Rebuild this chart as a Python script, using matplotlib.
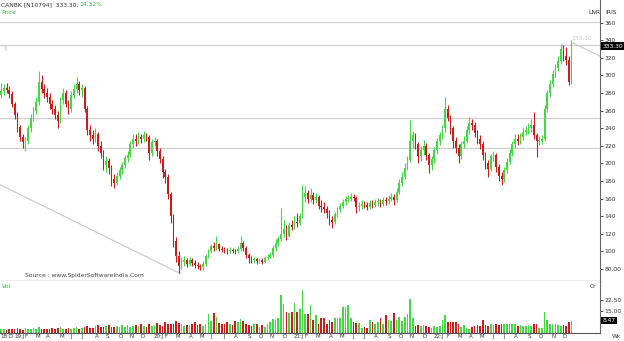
#!/usr/bin/env python
from __future__ import annotations

import matplotlib

matplotlib.use("Agg")
import matplotlib.pyplot as plt
import matplotlib.transforms as mtransforms
import pandas as pd


# weekly bars, Dec 2018 .. Dec 2022
WEEK_START = "2018-12-03"

OPENS = [
    278, 282, 286, 284, 279, 268, 255, 241, 230, 224,
    226, 240, 252, 260, 270, 292, 285, 280, 276, 268,
    262, 255, 248, 272, 280, 268, 262, 278, 285, 290,
    284, 286, 262, 238, 232, 228, 234, 220, 212, 198,
    203, 195, 182, 178, 186, 192, 198, 206, 210, 222,
    228, 226, 230, 228, 232, 230, 212, 224, 226, 214,
    205, 190, 185, 165, 140, 112, 95, 84, 88, 90,
    86, 90, 87, 85, 83, 82, 86, 95, 100, 106,
    104, 108, 103, 102, 101, 100, 102, 101, 100, 103,
    110, 104, 96, 92, 90, 91, 89, 90, 88, 92,
    94, 96, 104, 110, 114, 120, 126, 118, 130, 128,
    134, 132, 140, 162, 166, 160, 164, 158, 162, 152,
    150, 148, 144, 136, 133, 142, 148, 152, 156, 160,
    160, 162, 161, 150, 152, 154, 153, 150, 155, 153,
    156, 157, 154, 158, 157, 160, 162, 158, 168, 178,
    185, 195, 204, 225, 232, 222, 208, 215, 220, 210,
    198, 205, 215, 225, 232, 240, 262, 252, 240, 225,
    218, 208, 222, 226, 238, 246, 244, 235, 228, 222,
    210, 200, 194, 208, 210, 196, 186, 182, 192, 202,
    212, 222, 228, 226, 230, 236, 238, 240, 244, 232,
    226, 226, 228, 262, 280, 290, 302, 308, 316, 330, 322, 318, 291.5,
]
HIGHS = [
    291, 290, 291, 288, 282, 270, 258, 244, 234, 230,
    244, 256, 264, 276, 305, 300, 290, 286, 280, 272,
    266, 260, 276, 286, 283, 272, 282, 290, 298, 294,
    290, 288, 265, 244, 238, 240, 236, 225, 215, 208,
    206, 198, 188, 190, 196, 202, 210, 214, 226, 233,
    234, 236, 234, 237, 235, 232, 228, 230, 228, 218,
    208, 194, 188, 168, 142, 116, 100, 94, 95, 93,
    94, 93, 90, 88, 86, 89, 97, 103, 109, 111,
    118, 110, 106, 105, 104, 105, 104, 103, 106, 118,
    112, 106, 98, 95, 94, 93, 93, 92, 95, 97,
    99, 107, 114, 118, 149, 136, 130, 134, 136, 140,
    144, 144, 175, 174, 170, 172, 168, 166, 164, 158,
    156, 152, 147, 140, 145, 151, 155, 160, 163, 164,
    166, 165, 163, 156, 158, 157, 156, 158, 158, 160,
    161, 160, 162, 162, 164, 166, 165, 172, 182, 190,
    200, 208, 249, 237, 235, 224, 220, 227, 223, 212,
    209, 219, 229, 236, 244, 275, 266, 255, 243, 230,
    222, 226, 231, 242, 253, 251, 247, 238, 232, 225,
    213, 204, 211, 214, 212, 199, 190, 196, 206, 216,
    226, 233, 233, 235, 240, 243, 246, 250, 258, 235,
    231, 232, 266, 284, 295, 306, 313, 322, 336, 335, 332, 322, 340,
]
LOWS = [
    274, 278, 280, 274, 264, 250, 236, 225, 218, 214,
    222, 236, 248, 256, 266, 280, 274, 270, 262, 256,
    250, 240, 246, 268, 264, 256, 258, 274, 280, 278,
    276, 258, 232, 226, 222, 224, 214, 206, 192, 190,
    188, 174, 172, 175, 182, 188, 195, 202, 207, 218,
    220, 222, 223, 224, 225, 204, 208, 220, 208, 200,
    184, 178, 160, 132, 105, 88, 76, 80, 84, 82,
    83, 84, 81, 80, 79, 79, 84, 92, 98, 101,
    102, 100, 99, 98, 97, 98, 98, 97, 98, 101,
    100, 92, 87, 87, 87, 86, 87, 86, 87, 90,
    92, 94, 101, 106, 112, 116, 113, 116, 124, 125,
    128, 130, 138, 156, 155, 156, 154, 155, 148, 145,
    144, 138, 130, 127, 131, 139, 145, 149, 153, 156,
    157, 157, 144, 146, 148, 149, 147, 148, 149, 151,
    152, 150, 152, 153, 154, 157, 153, 156, 165, 174,
    182, 192, 202, 218, 216, 200, 203, 210, 204, 189,
    193, 201, 211, 221, 228, 236, 248, 234, 218, 212,
    200, 205, 218, 223, 234, 238, 230, 222, 216, 204,
    194, 185, 191, 203, 190, 180, 175, 179, 189, 199,
    209, 218, 221, 222, 227, 232, 234, 236, 228, 207,
    221, 222, 226, 258, 276, 287, 298, 305, 313, 316, 312, 289, 290,
]
CLOSES = [
    282, 286, 284, 279, 268, 255, 241, 230, 224, 226,
    240, 252, 260, 270, 292, 285, 280, 276, 268, 262,
    255, 248, 272, 280, 268, 262, 278, 285, 290, 284,
    286, 262, 238, 232, 228, 234, 220, 212, 198, 203,
    195, 182, 178, 186, 192, 198, 206, 210, 222, 228,
    226, 230, 228, 232, 230, 212, 224, 226, 214, 205,
    190, 185, 165, 140, 112, 95, 84, 88, 90, 86,
    90, 87, 85, 83, 82, 86, 95, 100, 106, 104,
    108, 103, 102, 101, 100, 102, 101, 100, 103, 110,
    104, 96, 92, 90, 91, 89, 90, 88, 92, 94,
    96, 104, 110, 114, 120, 126, 118, 130, 128, 134,
    132, 140, 162, 166, 160, 164, 158, 162, 152, 150,
    148, 144, 136, 133, 142, 148, 152, 156, 160, 160,
    162, 161, 150, 152, 154, 153, 150, 155, 153, 156,
    157, 154, 158, 157, 160, 162, 158, 168, 178, 185,
    195, 204, 225, 232, 222, 208, 215, 220, 210, 198,
    205, 215, 225, 232, 240, 262, 252, 240, 225, 218,
    208, 222, 226, 238, 246, 244, 235, 228, 222, 210,
    200, 194, 208, 210, 196, 186, 182, 192, 202, 212,
    222, 228, 226, 230, 236, 238, 240, 244, 232, 226,
    226, 228, 262, 280, 290, 302, 308, 316, 330, 322, 318, 292, 333.3,
]
VOLUME = [
    2.4, 2.8, 2.0, 2.6, 3.0, 2.4, 3.2, 2.8, 2.2, 3.4,
    3.0, 2.6, 3.2, 2.8, 3.8, 3.0, 2.4, 2.8, 2.6, 3.2,
    2.8, 3.4, 3.8, 3.0, 2.8, 3.2, 3.0, 3.4, 4.0, 2.8,
    3.2, 4.2, 4.8, 3.6, 3.4, 5.0, 5.4, 4.2, 3.8, 5.0,
    5.6, 4.4, 4.0, 4.8, 3.8, 5.2, 4.4, 5.4, 4.2, 5.0,
    5.2, 4.6, 5.8, 4.8, 4.2, 6.0, 5.0, 5.4, 6.6, 5.6,
    5.0, 7.2, 6.4, 5.8, 6.2, 8.2, 7.0, 5.8, 4.8, 5.6,
    5.2, 6.4, 7.8, 5.6, 6.2, 5.0, 6.0, 12.6, 8.2, 13.4,
    10.6, 7.0, 6.2, 5.8, 7.2, 6.4, 5.6, 8.2, 7.4, 9.8,
    8.4, 6.0, 5.2, 4.6, 6.4, 5.8, 3.8, 5.2, 4.4, 6.0,
    7.8, 9.6, 8.8, 10.4, 26.0, 20.0, 14.2, 13.8, 14.6, 20.2,
    14.0, 16.5, 29.5, 13.0, 13.0, 19.0, 9.0, 12.0, 6.3, 10.0,
    10.0, 6.0, 8.6, 7.5, 10.0, 10.0, 10.2, 17.7, 17.5, 19.0,
    10.0, 7.5, 7.0, 6.8, 3.5, 3.8, 3.4, 8.6, 7.5, 6.2,
    7.5, 10.0, 6.0, 12.0, 8.6, 8.0, 13.6, 9.0, 11.0, 8.2,
    11.0, 13.0, 23.3, 10.0, 5.0, 5.4, 4.8, 5.6, 5.0, 4.4,
    3.2, 4.6, 3.8, 5.0, 8.6, 12.0, 7.5, 7.5, 7.2, 7.8,
    5.8, 4.2, 5.2, 3.4, 3.0, 3.8, 5.0, 5.2, 4.8, 8.6,
    5.6, 5.0, 6.0, 5.4, 5.8, 5.2, 6.0, 6.2, 5.8, 6.0,
    6.2, 6.0, 5.0, 5.2, 4.8, 5.0, 5.4, 5.0, 6.0, 6.0,
    3.6, 3.4, 14.0, 8.6, 6.0, 6.2, 5.8, 5.2, 5.0, 5.4, 4.8, 7.5, 8.47,
]

PRICE_TICKS = [80, 100, 120, 140, 160, 180, 200, 220, 240, 260, 280, 300, 320, 340, 360]
VOL_TICKS = [15.0, 22.5]
LEVELS = [360.5, 334.5, 251.5, 217.0]          # drawn horizontal levels
TREND_LOW = ([-0.5, 66.5], [176, 75])          # (week idx, price)
TREND_TOP = ([212.5, 222.5], [337, 322])
LAST_PRICE = 333.30
LAST_CHANGE = 14.32
LAST_VOL = 8.47

GREEN = "#44d644"
RED = "#c41e1e"
TEXT = "#333333"
LABEL_GREEN = "#3aa63a"
GRID = "#cfcfcf"
FS = 4.3

W, H = 624, 341


def px(x, y):
    """pixel position (from top-left) -> figure fraction"""
    return x / W, 1 - y / H


def draw_candles(ax, weeks: pd.DataFrame) -> None:
    up = weeks["close"] >= weeks["open"]
    for mask, color in [(up, GREEN), (~up, RED)]:
        d = weeks[mask]
        ax.vlines(d.index, d["low"], d["high"], color=color, lw=0.8, zorder=3)
        bottom = d[["open", "close"]].min(axis=1)
        height = (d["close"] - d["open"]).abs().clip(lower=0.8)
        ax.bar(d.index, height, bottom=bottom, width=0.62, color=color, lw=0, zorder=4)


def month_labels(dates: pd.DatetimeIndex) -> list[tuple[int, str]]:
    out = []
    prev = None
    for i, d in enumerate(dates):
        if d.month != prev:
            if i == 0:
                out.append((i, f"{d:%y}:{'JFMAMJJASOND'[d.month - 1]}"))
            elif d.month == 1:
                out.append((i, f"{d:%y}:J"))
            else:
                out.append((i, "JFMAMJJASOND"[d.month - 1]))
            prev = d.month
    return out


def side_box(ax, value, text):
    ax.text(1.004, value, text, transform=ax.get_yaxis_transform(),
            ha="left", va="center", fontsize=FS, color="white", clip_on=False, zorder=10,
            bbox=dict(facecolor="black", edgecolor="none", pad=0.8))


def main() -> None:
    dates = pd.date_range(WEEK_START, periods=len(CLOSES), freq="W-MON")
    weeks = pd.DataFrame(
        {"open": OPENS, "high": HIGHS, "low": LOWS, "close": CLOSES, "vol": VOLUME}
    )

    fig = plt.figure(figsize=(W / 100, H / 100), dpi=100)
    fig.patch.set_facecolor("white")
    x0, y_top = px(0, 0)
    _, y_sep = px(0, 281)
    _, y_bot = px(0, 333)
    width = 600 / W
    ax = fig.add_axes([x0, y_sep, width, y_top - y_sep])
    axv = fig.add_axes([x0, y_bot, width, y_sep - y_bot], sharex=ax)

    xlim = (-0.45, 222.6)

    # ---- price panel
    for lvl in LEVELS:
        ax.axhline(lvl, color=GRID, lw=0.9, zorder=1)
    ax.plot(*TREND_LOW, color="#c8c8c8", lw=0.8, zorder=1)
    ax.plot(*TREND_TOP, color="#c8c8c8", lw=0.8, zorder=1)
    draw_candles(ax, weeks)
    ax.set_xlim(*xlim)
    ax.set_ylim(66.4, 385.7)
    ax.yaxis.tick_right()
    ax.set_yticks(PRICE_TICKS)
    ax.set_yticklabels(["80.00" if t == 80 else str(t) for t in PRICE_TICKS])
    ax.tick_params(axis="y", length=2, width=0.6, pad=1.2, labelsize=FS, colors=TEXT)
    ax.tick_params(axis="x", bottom=False, labelbottom=False)
    for side in ["top", "left"]:
        ax.spines[side].set_visible(False)
    ax.spines["right"].set_color("#666666")
    ax.spines["right"].set_linewidth(0.8)
    ax.spines["bottom"].set_color("#a0a0a0")
    ax.spines["bottom"].set_linewidth(1.0)

    side_box(ax, LAST_PRICE, f"{LAST_PRICE:.2f}")
    ax.text(216, 339, f"{LAST_PRICE:.2f}", fontsize=FS, color="#d0d0d0", ha="center", va="bottom")
    ax.text(8.8, 73, "Source : www.SpiderSoftwareIndia.Com", fontsize=FS, color="#444444",
            ha="left", va="center")

    # ---- volume panel
    up = weeks["close"] >= weeks["open"]
    axv.bar(weeks.index, weeks["vol"], width=0.62, lw=0,
            color=[GREEN if u else RED for u in up])
    axv.set_ylim(0, 35.4)
    axv.yaxis.tick_right()
    axv.set_yticks(VOL_TICKS)
    axv.set_yticklabels([f"{t:.2f}" for t in VOL_TICKS])
    axv.tick_params(axis="y", length=2, width=0.6, pad=1.2, labelsize=FS, colors=TEXT)
    axv.tick_params(axis="x", bottom=False, labelbottom=False)
    for side in ["top", "left"]:
        axv.spines[side].set_visible(False)
    axv.spines["right"].set_color("#666666")
    axv.spines["right"].set_linewidth(0.8)
    axv.spines["bottom"].set_color("#555555")
    axv.spines["bottom"].set_linewidth(0.8)
    side_box(axv, LAST_VOL, f"{LAST_VOL:.2f}")

    trans = mtransforms.blended_transform_factory(axv.transData, fig.transFigure)
    for i, lbl in month_labels(dates):
        axv.text(i - 0.3, px(0, 336.5)[1], lbl, transform=trans, fontsize=4.0,
                 color=TEXT, ha="left", va="center", clip_on=False)

    # ---- header / corner texts
    fig.text(*px(1, 5), f"CANBK [N10794]  {LAST_PRICE:.2f},", fontsize=FS, color=TEXT, va="center")
    fig.text(*px(79, 5), f"{LAST_CHANGE:.2f}%", fontsize=FS, color=LABEL_GREEN, va="center")
    fig.text(*px(1, 12), "Price", fontsize=FS, color=LABEL_GREEN, va="center")
    fig.text(*px(3, 48), "1", fontsize=4.0, color="#aaaaaa", va="center")
    fig.text(*px(588, 12), "LNR", fontsize=FS, color=TEXT, va="center")
    fig.text(*px(605, 12), "IRIS", fontsize=FS, color=TEXT, va="center")
    fig.text(*px(2, 286), "Vol", fontsize=FS, color=LABEL_GREEN, va="center")
    fig.text(*px(590, 286), "Cr", fontsize=FS, color=TEXT, va="center")
    fig.text(*px(612, 337), "Wk", fontsize=FS, color=TEXT, va="center")

    fig.savefig("out.png", dpi=100, facecolor="white")
    plt.close(fig)


if __name__ == "__main__":
    main()
